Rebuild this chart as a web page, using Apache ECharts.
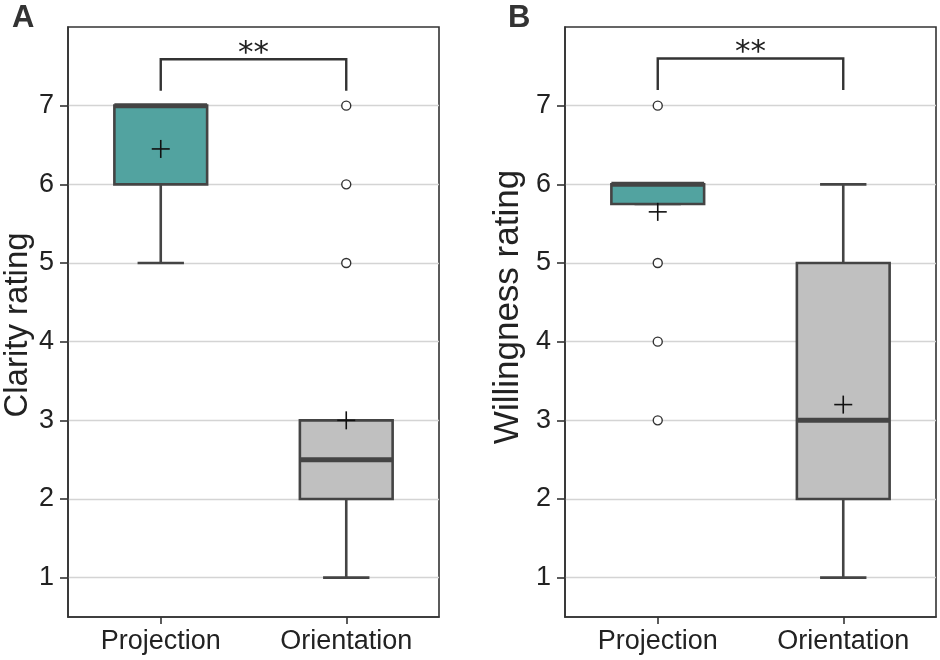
<!DOCTYPE html>
<html>
<head>
<meta charset="utf-8">
<script src="https://cdn.jsdelivr.net/npm/echarts@6/dist/echarts.min.js"></script>
<style>html,body{margin:0;padding:0;background:#fff}#c{width:940px;height:660px}</style>
</head>
<body>
<div id="c"></div>
<script>
// ---- data ----
const categories = ['Projection', 'Orientation'];
const yTicks = [1, 2, 3, 4, 5, 6, 7];

// Panel A: Clarity rating
const clarityMin = [5, 1];
const clarityQ1 = [6, 2];
const clarityMedian = [7, 2.5];
const clarityQ3 = [7, 3];
const clarityMax = [7, 3];
const clarityMean = [6.45, 3.0];
const clarityOutliers = [[], [5, 6, 7]];

// Panel B: Willingness rating
const willMin = [5.75, 1];
const willQ1 = [5.75, 2];
const willMedian = [6, 3];
const willQ3 = [6, 5];
const willMax = [6, 6];
const willMean = [5.65, 3.2];
const willOutliers = [[3, 4, 5, 7], []];

// significance brackets (axis units)
const sigLabel = ['**', '**'];
const bracketTop = [7.59, 7.6];
const bracketLeg = [7.19, 7.2];

const yTitles = ['Clarity rating', 'Willingness rating'];
const panelLetters = ['A', 'B'];

const boxColors = ['#52a3a0', '#c0c0c0'];
const edge = '#444444';
const FONT = '"Liberation Sans", Arial, sans-serif';

function boxData(mn, q1, md, q3, mx) {
  return categories.map((c, i) => [i, mn[i], q1[i], md[i], q3[i], mx[i]]);
}
function outlierData(out) {
  const r = [];
  out.forEach((arr, i) => arr.forEach(v => r.push([i, v])));
  return r;
}

function renderBox(params, api) {
  const i = api.value(0);
  const mn = api.value(1), q1 = api.value(2), md = api.value(3), q3 = api.value(4), mx = api.value(5);
  const band = api.size([1, 0])[0];
  const bw = band * 0.5, cw = bw * 0.5;
  const pMin = api.coord([i, mn]), pQ1 = api.coord([i, q1]), pMd = api.coord([i, md]);
  const pQ3 = api.coord([i, q3]), pMax = api.coord([i, mx]);
  const cx = pMd[0];
  const ls = { stroke: edge, lineWidth: 2.6 };
  const ch = [];
  if (mn < q1) {
    ch.push({ type: 'line', shape: { x1: cx, y1: pQ1[1], x2: cx, y2: pMin[1] }, style: ls });
  }
  ch.push({ type: 'line', shape: { x1: cx - cw / 2, y1: pMin[1], x2: cx + cw / 2, y2: pMin[1] }, style: ls });
  if (mx > q3) {
    ch.push({ type: 'line', shape: { x1: cx, y1: pQ3[1], x2: cx, y2: pMax[1] }, style: ls });
  }
  ch.push({ type: 'line', shape: { x1: cx - cw / 2, y1: pMax[1], x2: cx + cw / 2, y2: pMax[1] }, style: ls });
  ch.push({ type: 'rect', shape: { x: cx - bw / 2, y: pQ3[1], width: bw, height: pQ1[1] - pQ3[1] },
    style: { fill: boxColors[i], stroke: edge, lineWidth: 2.6 } });
  ch.push({ type: 'line', shape: { x1: cx - bw / 2, y1: pMd[1], x2: cx + bw / 2, y2: pMd[1] },
    style: { stroke: edge, lineWidth: 5 } });
  return { type: 'group', children: ch };
}

function renderMean(params, api) {
  const p = api.coord([api.value(0), api.value(1)]);
  const h = 9;
  return { type: 'group', children: [
    { type: 'line', shape: { x1: p[0] - h, y1: p[1], x2: p[0] + h, y2: p[1] }, style: { stroke: '#111', lineWidth: 1.6 } },
    { type: 'line', shape: { x1: p[0], y1: p[1] - h, x2: p[0], y2: p[1] + h }, style: { stroke: '#111', lineWidth: 1.6 } }
  ] };
}

function makeBracketRenderer(k) {
  return function (params, api) {
    const a = api.value(0), b = api.value(1), top = api.value(2), leg = api.value(3);
    const pa = api.coord([a, top]), pb = api.coord([b, top]);
    const la = api.coord([a, leg]), lb = api.coord([b, leg]);
    return { type: 'group', children: [
      { type: 'polyline', shape: { points: [[la[0], la[1]], [pa[0], pa[1]], [pb[0], pb[1]], [lb[0], lb[1]]] },
        style: { stroke: '#333', lineWidth: 2.4, fill: null } },
      { type: 'text', style: { x: (pa[0] + pb[0]) / 2, y: pa[1] + 10, text: sigLabel[k],
        font: '31px "DejaVu Sans", sans-serif', fill: '#222', align: 'center', verticalAlign: 'bottom' } }
    ] };
  };
}

const grids = [
  { left: 68, top: 27, width: 371, height: 590 },
  { left: 565, top: 27, width: 371, height: 590 }
];
const titlePos = [[18, 325, 33], [508, 307, 35]];
const letterPos = [[12, 3], [508, 3]];

const option = {
  animation: false,
  backgroundColor: '#fff',
  grid: grids.map(g => Object.assign({ show: true, borderColor: '#333', borderWidth: 1.6, backgroundColor: 'transparent', containLabel: false }, g)),
  xAxis: [0, 1].map(k => ({
    type: 'category', gridIndex: k, data: categories, boundaryGap: true,
    axisLine: { show: true, lineStyle: { color: '#333', width: 1.6 } },
    axisTick: { show: true, alignWithLabel: true, length: 7, lineStyle: { color: '#333', width: 1.6 } },
    axisLabel: { color: '#222', fontSize: 27, fontFamily: FONT, margin: 11 },
    splitLine: { show: false }
  })),
  yAxis: [0, 1].map(k => ({
    type: 'value', gridIndex: k, min: 0.5, max: 8,
    axisLine: { show: true, lineStyle: { color: '#333', width: 1.6 } },
    axisTick: { show: true, length: 8, customValues: yTicks, lineStyle: { color: '#333', width: 1.6 } },
    axisLabel: { color: '#222', fontSize: 27, fontFamily: FONT, margin: 14, customValues: yTicks },
    splitLine: { show: true, lineStyle: { color: '#d4d4d4', width: 1.4 } }
  })),
  graphic: [0, 1].map(k => ({
    type: 'text', left: letterPos[k][0], top: letterPos[k][1],
    style: { text: panelLetters[k], font: 'bold 31px ' + FONT, fill: '#333' }
  })).concat([0, 1].map(k => ({
    type: 'text', x: titlePos[k][0], y: titlePos[k][1], rotation: Math.PI / 2,
    style: { text: yTitles[k], x: 0, y: 0, align: 'center', verticalAlign: 'middle',
      font: titlePos[k][2] + 'px ' + FONT, fill: '#222' }
  }))),
  series: []
};

const panels = [
  { box: boxData(clarityMin, clarityQ1, clarityMedian, clarityQ3, clarityMax), mean: clarityMean, out: clarityOutliers },
  { box: boxData(willMin, willQ1, willMedian, willQ3, willMax), mean: willMean, out: willOutliers }
];
panels.forEach((p, k) => {
  option.series.push({
    type: 'custom', xAxisIndex: k, yAxisIndex: k, renderItem: renderBox, data: p.box, z: 3,
    encode: { x: 0, y: [1, 2, 3, 4, 5] }
  });
  option.series.push({
    type: 'scatter', xAxisIndex: k, yAxisIndex: k, data: outlierData(p.out), symbol: 'circle', symbolSize: 9,
    itemStyle: { color: '#fff', borderColor: '#333', borderWidth: 1.4, opacity: 1 }, z: 4
  });
  option.series.push({
    type: 'custom', xAxisIndex: k, yAxisIndex: k, renderItem: renderMean,
    data: categories.map((c, i) => [i, p.mean[i]]), z: 5
  });
  option.series.push({
    type: 'custom', xAxisIndex: k, yAxisIndex: k, z: 5, renderItem: makeBracketRenderer(k),
    data: [[0, 1, bracketTop[k], bracketLeg[k]]]
  });
});

const chart = echarts.init(document.getElementById('c'));
chart.setOption(option);
</script>
</body>
</html>
